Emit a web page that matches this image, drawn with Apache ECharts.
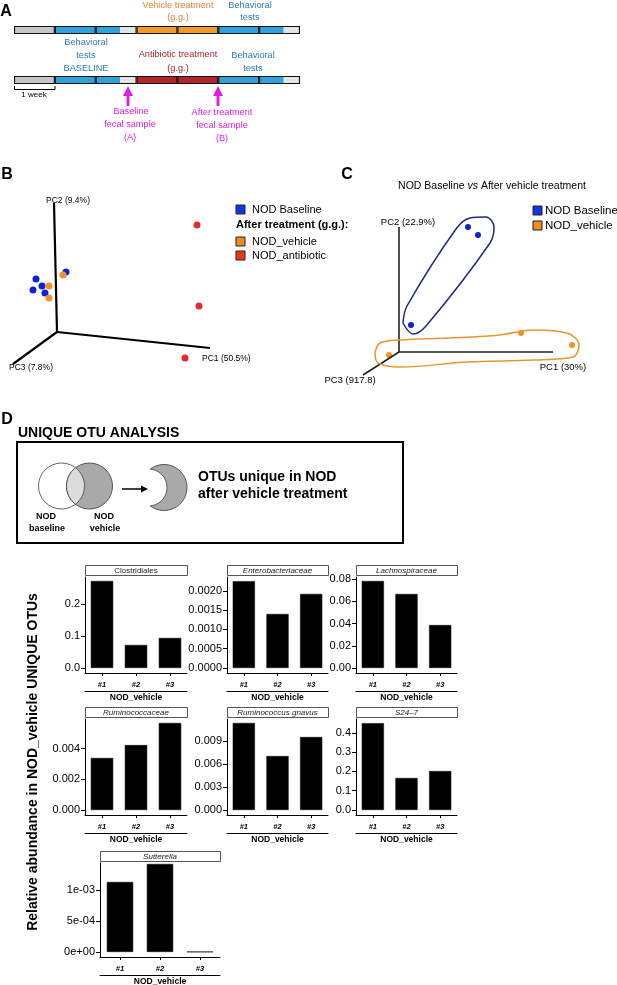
<!DOCTYPE html>
<html><head><meta charset="utf-8">
<script src="https://cdn.jsdelivr.net/npm/echarts@6/dist/echarts.min.js"></script>
<style>html,body{margin:0;padding:0;background:#fff}#c{width:617px;height:985px}</style>
</head><body><div id="c"></div>
<script>
const FONT = '"Liberation Sans", Arial, Helvetica, sans-serif';

// ---------- Panel A: experimental timeline (weeks) ----------
const timelineRows = ['Vehicle', 'Antibiotic'];
const timelineSegmentWeeks = [1, 1, 0.6, 0.4, 1, 1, 1, 0.6, 0.4];
const timelineSegmentKinds = ['acclimation', 'behavior', 'behavior', 'rest', 'treatment', 'treatment', 'behavior', 'behavior', 'rest'];
const timelineWeekFrames = [1, 1, 1, 1, 1, 1, 1];

// ---------- Panel B: PCoA (projected PC coordinates) ----------
const pcaBBaseline = [[-0.21, 0.53], [-0.24, 0.42], [-0.15, 0.46], [-0.12, 0.39], [0.09, 0.60]];
const pcaBVehicle = [[0.06, 0.57], [-0.08, 0.46], [-0.08, 0.34]];
const pcaBAntibiotic = [[1.40, 1.07], [1.42, 0.26], [1.28, -0.26]];
const pcaBAxisPC1 = [[0, 0], [1.53, -0.16]];
const pcaBAxisPC2 = [[0, 0], [-0.03, 1.29]];
const pcaBAxisPC3 = [[0, 0], [-0.44, -0.32]];

// ---------- Panel C: PCoA baseline vs vehicle ----------
const pcaCBaseline = [[0.69, 1.25], [0.79, 1.17], [0.12, 0.27]];
const pcaCVehicle = [[1.22, 0.19], [1.73, 0.07], [-0.10, -0.03]];
const pcaCAxisPC1 = [[0, 0], [1.54, 0]];
const pcaCAxisPC2 = [[0, 0], [0, 1.25]];
const pcaCAxisPC3 = [[0, 0], [-0.36, -0.23]];
const pcaCBaselineHull = [[0.04, 0.29], [0.08, 0.46], [0.57, 1.23], [0.71, 1.34], [0.87, 1.35], [0.95, 1.25], [0.91, 1.09], [0.27, 0.26], [0.14, 0.18], [0.04, 0.29]];
const pcaCVehicleHull = [[-0.24, -0.01], [-0.19, 0.09], [0.01, 0.12], [0.51, 0.14], [1.01, 0.17], [1.34, 0.22], [1.68, 0.19], [1.80, 0.07], [1.74, -0.05], [1.34, -0.08], [0.68, -0.10], [0.01, -0.15], [-0.21, -0.11], [-0.24, -0.01]];

// ---------- Panel D: relative abundance of unique OTUs ----------
const otuSamples = ['#1', '#2', '#3'];
const clostridiales = [0.272, 0.072, 0.094];
const enterobacteriaceae = [0.00225, 0.00140, 0.00192];
const lachnospiraceae = [0.0784, 0.0667, 0.0387];
const ruminococcaceae = [0.00339, 0.00423, 0.00567];
const ruminococcusGnavus = [0.01135, 0.00704, 0.00952];
const s24_7 = [0.450, 0.166, 0.202];
const sutterella = [0.00113, 0.00142, 0.000004];

const clostridialesTicks = [0, 0.1, 0.2];
const enterobacteriaceaeTicks = [0, 0.0005, 0.0010, 0.0015, 0.0020];
const lachnospiraceaeTicks = [0, 0.02, 0.04, 0.06, 0.08];
const ruminococcaceaeTicks = [0, 0.002, 0.004];
const ruminococcusGnavusTicks = [0, 0.003, 0.006, 0.009];
const s24_7Ticks = [0, 0.1, 0.2, 0.3, 0.4];
const sutterellaTicks = [0, 0.0005, 0.0010];

function sci(v) {
  const parts = v.toExponential(0).split('e');
  const e = parts[1];
  return parts[0] + 'e' + e[0] + e.slice(1).padStart(2, '0');
}

const barPanels = [
  { name: 'Clostridiales', italic: false, values: clostridiales, ticks: clostridialesTicks, fmt: v => v.toFixed(1) },
  { name: 'Enterobacteriaceae', italic: true, values: enterobacteriaceae, ticks: enterobacteriaceaeTicks, fmt: v => v.toFixed(4) },
  { name: 'Lachnospiraceae', italic: true, values: lachnospiraceae, ticks: lachnospiraceaeTicks, fmt: v => v.toFixed(2) },
  { name: 'Ruminococcaceae', italic: true, values: ruminococcaceae, ticks: ruminococcaceaeTicks, fmt: v => v.toFixed(3) },
  { name: 'Ruminococcus gnavus', italic: true, values: ruminococcusGnavus, ticks: ruminococcusGnavusTicks, fmt: v => v.toFixed(3) },
  { name: 'S24\u20137', italic: true, values: s24_7, ticks: s24_7Ticks, fmt: v => v.toFixed(1) },
  { name: 'Sutterella', italic: true, values: sutterella, ticks: sutterellaTicks, fmt: sci }
];

// layout (pixels): panel box, zero padding, pixels per data unit
const barLayout = [
  { left: 85, top: 577, width: 102, height: 96, pad: 5, ppu: 320 },
  { left: 227, top: 577, width: 101, height: 96, pad: 5, ppu: 38600 },
  { left: 356, top: 577, width: 101, height: 96, pad: 5, ppu: 1110 },
  { left: 85, top: 719, width: 102, height: 96, pad: 5, ppu: 15350 },
  { left: 227, top: 719, width: 101, height: 96, pad: 5, ppu: 7667 },
  { left: 356, top: 719, width: 101, height: 96, pad: 5, ppu: 193 },
  { left: 100, top: 863, width: 120, height: 94, pad: 5, ppu: 62000 }
];

const COL = {
  acclimation: '#c6c6c6', behavior: '#2ba3dc', rest: '#e4e4e4',
  vehicle: '#f59b23', antibiotic: '#b7232c',
  textBlue: '#2b7bb9', textOrange: '#e8822d', textRed: '#a8232d', magenta: '#e020e0',
  ptBlue: '#0d22d8', ptOrange: '#f0922a', ptRed: '#e42b2b',
  legBlue: '#1234e6', legOrange: '#f08a1c', legRed: '#f0380e'
};

const grids = [];
const xAxes = [];
const yAxes = [];
const series = [];
const graphics = [];

function noGridBounds(g) { g.containLabel = false; g.outerBoundsMode = 'none'; return g; }

// ----- Panel A grid -----
grids.push(noGridBounds({ left: 14, top: 5, width: 286, height: 100 }));
xAxes.push({ gridIndex: 0, type: 'value', min: 0, max: 7, show: false });
yAxes.push({ gridIndex: 0, type: 'category', data: timelineRows, inverse: true, show: false });
timelineSegmentWeeks.forEach((w, i) => {
  const kind = timelineSegmentKinds[i];
  series.push({
    type: 'bar', xAxisIndex: 0, yAxisIndex: 0, stack: 'seg', barWidth: 8, barGap: '-100%',
    silent: true,
    data: timelineRows.map((r, ri) => ({
      value: w,
      itemStyle: { color: kind === 'treatment' ? (ri === 0 ? COL.vehicle : COL.antibiotic) : COL[kind] }
    })),
    itemStyle: { borderWidth: 0 }
  });
});
timelineWeekFrames.forEach(w => {
  series.push({
    type: 'bar', xAxisIndex: 0, yAxisIndex: 0, stack: 'frame', barWidth: 8, barGap: '-100%',
    silent: true, z: 3,
    data: timelineRows.map(() => w),
    itemStyle: { color: 'rgba(0,0,0,0)', borderColor: '#111', borderWidth: 1.1 }
  });
});

// ----- Panel B grid -----
grids.push(noGridBounds({ left: 0, top: 160, width: 300, height: 220 }));
xAxes.push({ gridIndex: 1, type: 'value', min: -0.57, max: 2.43, show: false });
yAxes.push({ gridIndex: 1, type: 'value', min: -0.48, max: 1.72, show: false });
[pcaBAxisPC1, pcaBAxisPC2, pcaBAxisPC3].forEach(d => series.push({
  type: 'line', xAxisIndex: 1, yAxisIndex: 1, data: d, symbol: 'none', silent: true, clip: false,
  lineStyle: { color: '#000', width: 2.2 }
}));
[[pcaBBaseline, COL.ptBlue], [pcaBVehicle, COL.ptOrange], [pcaBAntibiotic, COL.ptRed]].forEach(([d, c]) => series.push({
  type: 'scatter', xAxisIndex: 1, yAxisIndex: 1, data: d, symbolSize: 7, clip: false,
  itemStyle: { color: c, opacity: 1 }
}));

// ----- Panel C grid -----
grids.push(noGridBounds({ left: 300, top: 160, width: 317, height: 220 }));
xAxes.push({ gridIndex: 2, type: 'value', min: -0.99, max: 2.18, show: false });
yAxes.push({ gridIndex: 2, type: 'value', min: -0.28, max: 1.92, show: false });
[pcaCAxisPC1, pcaCAxisPC2, pcaCAxisPC3].forEach(d => series.push({
  type: 'line', xAxisIndex: 2, yAxisIndex: 2, data: d, symbol: 'none', silent: true, clip: false,
  lineStyle: { color: '#222', width: 1.6 }
}));
series.push({
  type: 'line', xAxisIndex: 2, yAxisIndex: 2, data: pcaCBaselineHull, symbol: 'none', smooth: 0.35, clip: false, silent: true,
  lineStyle: { color: '#1f2a8c', width: 1.5 }
});
series.push({
  type: 'line', xAxisIndex: 2, yAxisIndex: 2, data: pcaCVehicleHull, symbol: 'none', smooth: 0.35, clip: false, silent: true,
  lineStyle: { color: '#e8962e', width: 1.5 }
});
series.push({ type: 'scatter', xAxisIndex: 2, yAxisIndex: 2, data: pcaCBaseline, symbolSize: 6, clip: false, itemStyle: { color: COL.ptBlue, opacity: 1 } });
series.push({ type: 'scatter', xAxisIndex: 2, yAxisIndex: 2, data: pcaCVehicle, symbolSize: 6, clip: false, itemStyle: { color: COL.ptOrange, opacity: 1 } });

// ----- Panel D bar grids -----
barPanels.forEach((p, i) => {
  const L = barLayout[i];
  const gi = grids.length;
  grids.push(noGridBounds({ left: L.left, top: L.top, width: L.width, height: L.height }));
  const xi = xAxes.length;
  xAxes.push({
    gridIndex: gi, type: 'category', data: otuSamples, position: 'bottom',
    axisLine: { show: true, onZero: false, lineStyle: { color: '#000', width: 1 } },
    axisTick: { show: true, alignWithLabel: true, length: 3, lineStyle: { color: '#000' } },
    axisLabel: { show: true, margin: 8, fontSize: 7.5, fontWeight: 'bold', fontStyle: 'italic', color: '#000', fontFamily: FONT }
  });
  xAxes.push({
    gridIndex: gi, type: 'category', data: otuSamples, position: 'bottom', offset: 18,
    axisLine: { show: true, onZero: false, lineStyle: { color: '#000', width: 1 } },
    axisTick: { show: false }, axisLabel: { show: false },
    name: 'NOD_vehicle', nameLocation: 'middle', nameGap: 2,
    nameTextStyle: { fontSize: 8.5, fontWeight: 'bold', color: '#000', fontFamily: FONT, verticalAlign: 'top' }
  });
  const yi = yAxes.length;
  yAxes.push({
    gridIndex: gi, type: 'value', min: -L.pad / L.ppu, max: (L.height - L.pad) / L.ppu,
    splitLine: { show: false },
    axisLine: { show: true, lineStyle: { color: '#000', width: 1 } },
    axisTick: { show: true, length: 4, customValues: p.ticks, lineStyle: { color: '#000' } },
    axisLabel: { show: true, margin: 5, fontSize: 11, color: '#000', fontFamily: FONT, customValues: p.ticks, formatter: v => p.fmt(v) }
  });
  series.push({
    type: 'bar', xAxisIndex: xi, yAxisIndex: yi, data: p.values, barWidth: '66%',
    itemStyle: { color: '#000', borderColor: '#111', borderWidth: 0.6 }
  });
  // strip
  graphics.push({ type: 'rect', shape: { x: L.left + 0.5, y: L.top - 11.5, width: L.width, height: 10 },
    style: { fill: '#fff', stroke: '#555', lineWidth: 1 }, silent: true });
  graphics.push({ type: 'text', x: L.left + L.width / 2, y: L.top - 6.5,
    style: { text: p.name, fontSize: 8, fontStyle: p.italic ? 'italic' : 'normal', fontFamily: FONT, fill: '#222', align: 'center', verticalAlign: 'middle' }, silent: true });
});

// ---------- graphic helpers ----------
function txt(x, y, text, o) {
  o = o || {};
  graphics.push({ type: 'text', x: x, y: y, rotation: o.rotation || 0, silent: true,
    style: { text: text, fontSize: o.size || 9.2, fontWeight: o.bold ? 'bold' : 'normal', fontStyle: o.italic ? 'italic' : 'normal',
      fontFamily: FONT, fill: o.color || '#000', align: o.align || 'center', verticalAlign: 'middle', rich: o.rich } });
}
function sq(x, y, c) {
  graphics.push({ type: 'rect', shape: { x: x, y: y, width: 9, height: 9 }, style: { fill: c, stroke: '#222', lineWidth: 1 }, silent: true });
}

// Panel letters
txt(6, 12, 'A', { size: 16, bold: true });
txt(7, 175, 'B', { size: 16, bold: true });
txt(347, 175, 'C', { size: 16, bold: true });
txt(7, 420, 'D', { size: 16, bold: true });

// Panel A texts
txt(178, 5, 'Vehicle treatment', { color: COL.textOrange });
txt(178, 17.5, '(g.g.)', { color: COL.textOrange });
txt(250, 5, 'Behavioral', { color: COL.textBlue });
txt(250, 17.5, 'tests', { color: COL.textBlue });
txt(86, 42, 'Behavioral', { color: COL.textBlue });
txt(86, 55, 'tests', { color: COL.textBlue });
txt(86, 68, 'BASELINE', { color: COL.textBlue });
txt(178, 54, 'Antibiotic treatment', { color: COL.textRed });
txt(178, 68, '(g.g.)', { color: COL.textRed });
txt(253, 55, 'Behavioral', { color: COL.textBlue });
txt(253, 68, 'tests', { color: COL.textBlue });
graphics.push({ type: 'polyline', shape: { points: [[14.5, 86], [14.5, 89.5], [55, 89.5], [55, 86]] }, style: { stroke: '#000', lineWidth: 1, fill: null }, silent: true });
txt(34, 95, '1 week', { size: 8 });
[128, 218].forEach(ax => {
  graphics.push({ type: 'polygon', shape: { points: [[ax, 86], [ax - 5, 96], [ax + 5, 96]] }, style: { fill: COL.magenta }, silent: true });
  graphics.push({ type: 'rect', shape: { x: ax - 1.5, y: 95, width: 3, height: 11 }, style: { fill: COL.magenta }, silent: true });
});
txt(131, 111, 'Baseline', { color: COL.magenta });
txt(130, 124, 'fecal sample', { color: COL.magenta });
txt(130, 137, '(A)', { color: COL.magenta });
txt(222, 112, 'After treatment', { color: COL.magenta });
txt(222, 125, 'fecal sample', { color: COL.magenta });
txt(222, 138, '(B)', { color: COL.magenta });

// Panel B labels & legend
txt(68, 201, 'PC2 (9.4%)', { size: 8.5 });
txt(202, 359, 'PC1 (50.5%)', { size: 8.5, align: 'left' });
txt(31, 368, 'PC3 (7.8%)', { size: 8.5 });
sq(236, 205, COL.legBlue);
txt(252, 209.5, 'NOD Baseline', { size: 11, align: 'left' });
txt(236, 224.5, 'After treatment (g.g.):', { size: 11, bold: true, align: 'left' });
sq(236, 237, COL.legOrange);
txt(252, 241.5, 'NOD_vehicle', { size: 11, align: 'left' });
sq(236, 251, COL.legRed);
txt(252, 255.5, 'NOD_antibiotic', { size: 11, align: 'left' });

// Panel C labels & legend
txt(492, 186, '{n|NOD Baseline }{i|vs}{n| After vehicle treatment}', { size: 10.5,
  rich: { n: { fontSize: 10.5, fontFamily: FONT }, i: { fontSize: 10.5, fontFamily: FONT, fontStyle: 'italic' } } });
sq(533, 206, COL.legBlue);
txt(545, 210.5, 'NOD Baseline', { size: 11.5, align: 'left' });
sq(533, 221, COL.legOrange);
txt(545, 225.5, 'NOD_vehicle', { size: 11.5, align: 'left' });
txt(408, 222, 'PC2 (22.9%)', { size: 9.5 });
txt(563, 367, 'PC1 (30%)', { size: 9.5 });
txt(350, 380, 'PC3 (917.8)', { size: 9.5 });

// Panel D header box
txt(18, 433, 'UNIQUE OTU ANALYSIS', { size: 14, bold: true, align: 'left' });
graphics.push({ type: 'rect', shape: { x: 17, y: 442, width: 386, height: 101 }, style: { fill: null, stroke: '#000', lineWidth: 2 }, silent: true });
// Venn
const c1 = [61.5, 486], c2 = [89.5, 486], vr = 23;
function arcPts(c, r, a0, a1, n) {
  const pts = [];
  for (let k = 0; k <= n; k++) { const a = (a0 + (a1 - a0) * k / n) * Math.PI / 180; pts.push([c[0] + r * Math.cos(a), c[1] + r * Math.sin(a)]); }
  return pts;
}
graphics.push({ type: 'circle', shape: { cx: c1[0], cy: c1[1], r: vr }, style: { fill: '#fff', stroke: '#666', lineWidth: 1 }, silent: true });
graphics.push({ type: 'circle', shape: { cx: c2[0], cy: c2[1], r: vr }, style: { fill: '#a9a9a9', stroke: '#555', lineWidth: 1 }, silent: true });
const lensAng = Math.acos(14 / 23) * 180 / Math.PI;
const lens = arcPts(c1, vr, -lensAng, lensAng, 24).concat(arcPts(c2, vr, 180 - lensAng, 180 + lensAng, 24));
graphics.push({ type: 'polygon', shape: { points: lens }, style: { fill: '#dcdcdc', stroke: '#555', lineWidth: 1 }, silent: true });
txt(46, 517, 'NOD', { size: 9, bold: true });
txt(47, 529, 'baseline', { size: 9, bold: true });
txt(104, 517, 'NOD', { size: 9, bold: true });
txt(105, 529, 'vehicle', { size: 9, bold: true });
graphics.push({ type: 'line', shape: { x1: 122, y1: 489, x2: 142, y2: 489 }, style: { stroke: '#000', lineWidth: 1.5 }, silent: true });
graphics.push({ type: 'polygon', shape: { points: [[141, 485.5], [148, 489], [141, 492.5]] }, style: { fill: '#000' }, silent: true });
// crescent
const co = [164, 487.5], ci = [148.5, 487.5];
const cres = arcPts(co, 23, -126.8, 126.8, 40).concat(arcPts(ci, 18.5, 84.6, -84.6, 30));
graphics.push({ type: 'polygon', shape: { points: cres }, style: { fill: '#a9a9a9', stroke: '#555', lineWidth: 1 }, silent: true });
txt(198, 477, 'OTUs unique in NOD', { size: 14, bold: true, align: 'left' });
txt(198, 494, 'after vehicle treatment', { size: 14, bold: true, align: 'left' });

// y axis title
txt(33, 762, 'Relative abundance in NOD_vehicle UNIQUE OTUs', { size: 14, bold: true, rotation: Math.PI / 2 });

const chart = echarts.init(document.getElementById('c'), null, { renderer: 'canvas' });
chart.setOption({
  animation: false,
  backgroundColor: '#fff',
  grid: grids,
  xAxis: xAxes,
  yAxis: yAxes,
  series: series,
  graphic: { elements: graphics }
});
</script>
</body></html>
